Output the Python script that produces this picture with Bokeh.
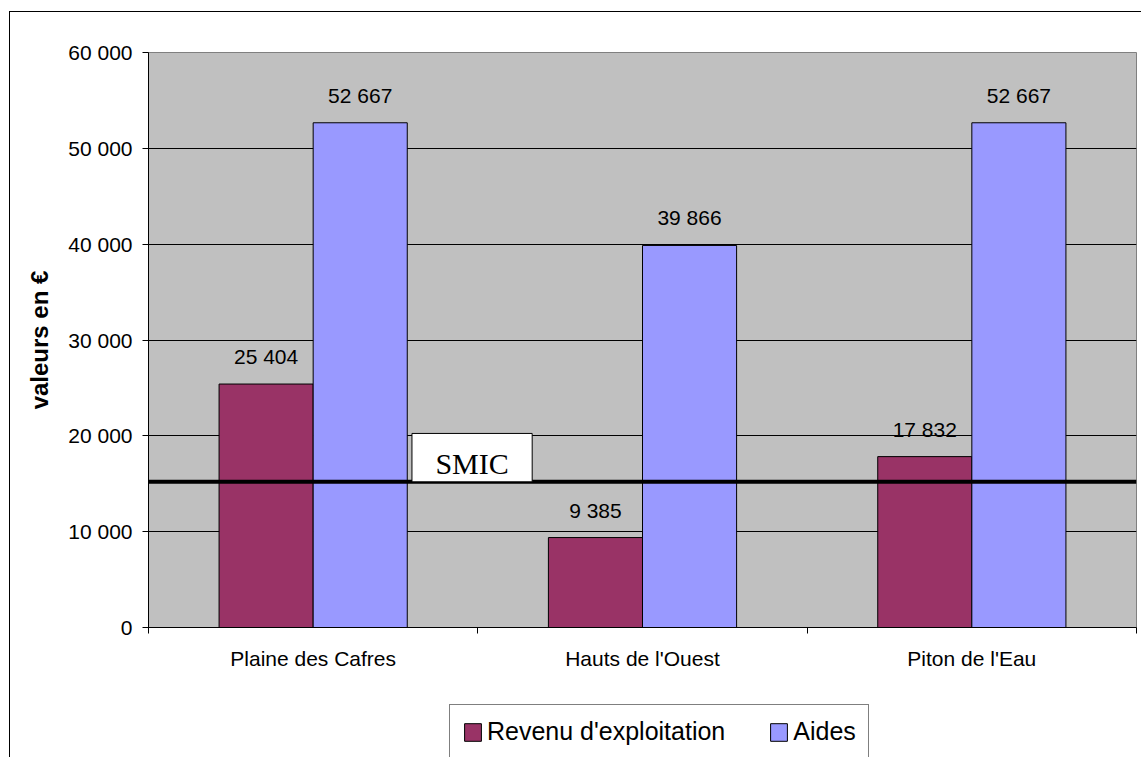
from bokeh.plotting import figure
from bokeh.layouts import column
from bokeh.models import (Range1d, FixedTicker, ColumnDataSource, LabelSet, Span,
                          BoxAnnotation, Label, Legend, LegendItem)
from bokeh.core.properties import value
from bokeh.embed import file_html
from bokeh.resources import INLINE

# ---- data ----
categories = ["Plaine des Cafres", "Hauts de l'Ouest", "Piton de l'Eau"]
revenu = [25404, 9385, 17832]
aides = [52667, 39866, 52667]
series_names = ["Revenu d'exploitation", "Aides"]
smic_value = 15200
smic_label = "SMIC"
y_ticks = [0, 10000, 20000, 30000, 40000, 50000, 60000]
y_title = "valeurs en €"

# ---- styles ----
colors = ["#993366", "#9999FF"]
FONT = "Liberation Sans"
W = 1131


def fmt(v):
    return f"{v:,}".replace(",", " ")


n = len(categories)
centers = [i + 0.5 for i in range(n)]
bw = 1 / 3.5

p = figure(width=W, height=685, x_range=Range1d(0, n), y_range=Range1d(0, y_ticks[-1]),
           output_backend="svg", toolbar_location=None,
           min_border_left=138, min_border_top=40, min_border_right=5, min_border_bottom=70,
           background_fill_color="#C0C0C0", border_fill_color="white",
           outline_line_color="#808080")

src_r = ColumnDataSource(dict(x=[c - bw / 2 for c in centers], top=revenu,
                              label=[fmt(v) for v in revenu]))
src_a = ColumnDataSource(dict(x=[c + bw / 2 for c in centers], top=aides,
                              label=[fmt(v) for v in aides]))

bar_styles = [dict(fill_color=c, line_color="black", line_width=1) for c in colors]
p.vbar(x="x", top="top", bottom=0, width=bw, source=src_r, **bar_styles[0])
p.vbar(x="x", top="top", bottom=0, width=bw, source=src_a, **bar_styles[1])

for src in (src_r, src_a):
    p.add_layout(LabelSet(x="x", y="top", text="label", source=src, text_align="center",
                          text_baseline="alphabetic", y_offset=20,
                          text_font=value(FONT), text_font_size="21px", text_color="black"))

# SMIC line and box
p.add_layout(Span(location=smic_value, dimension="width", line_color="black", line_width=4))
box_left, box_right, box_top = 0.80, 1.165, 20250
p.add_layout(BoxAnnotation(left=box_left, right=box_right, bottom=smic_value, top=box_top,
                           fill_color="white", fill_alpha=1, line_color="black",
                           line_width=1, line_alpha=1))
p.add_layout(Label(x=(box_left + box_right) / 2, y=smic_value, text=smic_label,
                   text_align="center", text_baseline="bottom", y_offset=2,
                   text_font="Liberation Serif", text_font_size="30px", text_color="black"))

# axes
p.yaxis.ticker = FixedTicker(ticks=y_ticks)
p.yaxis.major_label_overrides = {t: fmt(t) for t in y_ticks}
p.yaxis.minor_tick_line_color = None
p.yaxis.major_tick_out = 6
p.yaxis.major_tick_in = 0
p.yaxis.major_tick_line_color = "black"
p.yaxis.axis_line_color = "black"
p.yaxis.major_label_standoff = 10
p.yaxis.major_label_text_font = FONT
p.yaxis.major_label_text_font_size = "21px"
p.yaxis.major_label_text_color = "black"
p.yaxis.axis_label = y_title
p.yaxis.axis_label_text_font = FONT
p.yaxis.axis_label_text_font_size = "24px"
p.yaxis.axis_label_text_font_style = "bold"
p.yaxis.axis_label_text_color = "black"
p.yaxis.axis_label_standoff = 12

p.xaxis.ticker = FixedTicker(ticks=centers, minor_ticks=list(range(n + 1)))
p.xaxis.major_label_overrides = {c: cat for c, cat in zip(centers, categories)}
p.xaxis.major_tick_line_color = None
p.xaxis.major_tick_out = 0
p.xaxis.major_tick_in = 0
p.xaxis.minor_tick_out = 6
p.xaxis.minor_tick_in = 0
p.xaxis.minor_tick_line_color = "black"
p.xaxis.axis_line_color = "black"
p.xaxis.major_label_standoff = 13
p.xaxis.major_label_text_font = FONT
p.xaxis.major_label_text_font_size = "21px"
p.xaxis.major_label_text_color = "black"

p.xgrid.grid_line_color = None
p.ygrid.grid_line_color = "black"
p.ygrid.grid_line_width = 1

# ---- legend strip below the chart (its bar renderers are hidden; only legend swatches show) ----
p_leg = figure(width=W, height=60, x_range=Range1d(0, n), y_range=Range1d(-2, -1),
               output_backend="svg", toolbar_location=None,
               x_axis_location=None, y_axis_location=None, min_border=0,
               background_fill_color="white", border_fill_color="white",
               outline_line_color=None)
p_leg.grid.visible = False
l1 = p_leg.vbar(x="x", top="top", bottom=0, width=bw, source=src_r, visible=False,
                **bar_styles[0])
l2 = p_leg.vbar(x="x", top="top", bottom=0, width=bw, source=src_a, visible=False,
                **bar_styles[1])

legend = Legend(items=[LegendItem(label=series_names[0], renderers=[l1]),
                       LegendItem(label=series_names[1], renderers=[l2])],
                orientation="horizontal", location=(301, -2),
                border_line_color="black", border_line_width=1,
                background_fill_color="white", background_fill_alpha=1,
                inactive_fill_alpha=0,
                label_text_font=FONT, label_text_font_size="25px", label_text_color="black",
                glyph_width=21, glyph_height=22, label_standoff=4, spacing=43,
                padding=12, margin=0)
p_leg.add_layout(legend, "center")

layout = column(p, p_leg, spacing=0,
                styles={"margin-left": "9px", "margin-top": "11px",
                        "border-left": "1px solid black", "border-top": "1px solid black"})

open("out.html", "w").write(file_html(layout, INLINE))
